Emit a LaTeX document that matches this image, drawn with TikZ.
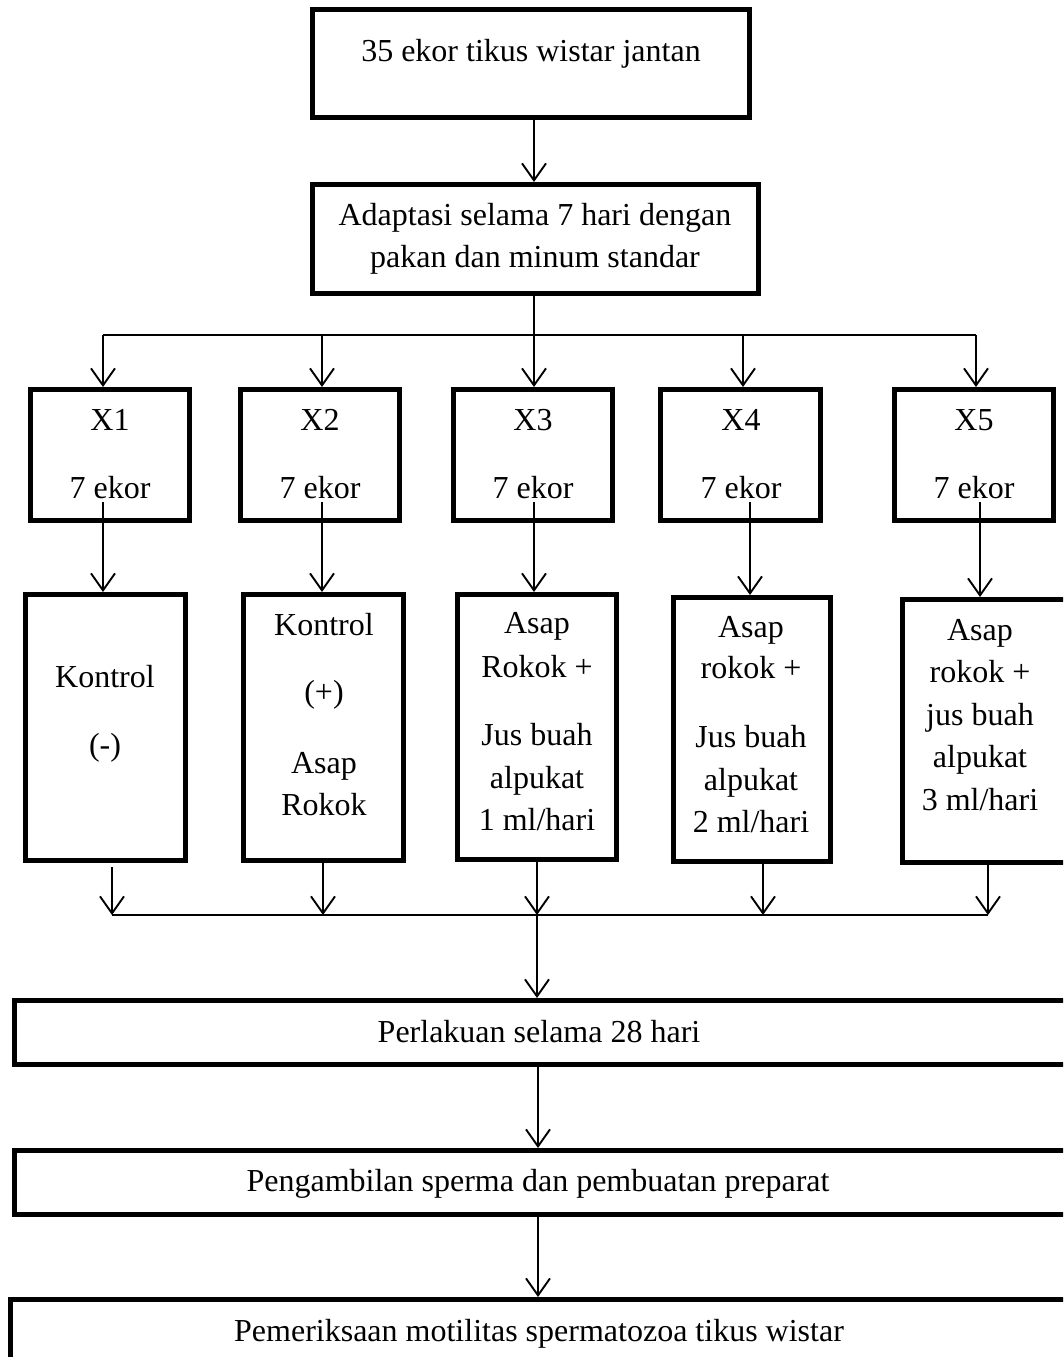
\documentclass[tikz,border=0pt]{standalone}
\usepackage{fontspec}
\setmainfont{Liberation Serif}
\usetikzlibrary{arrows.meta}
\begin{document}
\begin{tikzpicture}[x=1pt,y=-1pt,
  box/.style={draw, line width=5pt, inner sep=0pt, outer sep=2.5pt},
  txt/.style={anchor=base, inner sep=0pt, font=\fontsize{32}{38}\selectfont},
  link/.style={line width=1.9pt},
  arr/.style={line width=1.9pt, -{Straight Barb[length=17pt,width=24pt]}}]
\clip (0,0) rectangle (1063,1357);
\fill[white] (0,0) rectangle (1063,1357);
\newcommand\tline[4]{\node[txt] (#1) at (#2,#3) {#4};}
% boxes (center, size = outer size - line width)
\node[box, minimum width=437pt, minimum height=108pt] (A) at (531,63.5) {};
\node[box, minimum width=446pt, minimum height=109pt] (B) at (535.5,239) {};
\node[box, minimum width=159pt, minimum height=131pt] (X1) at (110,455) {};
\node[box, minimum width=159pt, minimum height=131pt] (X2) at (320,455) {};
\node[box, minimum width=159pt, minimum height=131pt] (X3) at (533,455) {};
\node[box, minimum width=160pt, minimum height=131pt] (X4) at (740.5,455) {};
\node[box, minimum width=159pt, minimum height=131pt] (X5) at (974,455) {};
\node[box, minimum width=160pt, minimum height=266pt] (R1) at (105.5,727.5) {};
\node[box, minimum width=160pt, minimum height=266pt] (R2) at (323.5,727.5) {};
\node[box, minimum width=159pt, minimum height=265pt] (R3) at (537,727) {};
\node[box, minimum width=157pt, minimum height=264pt] (R4) at (752,729.5) {};
\node[box, minimum width=170pt, minimum height=263pt] (R5) at (987.5,731) {};
\node[box, minimum width=1058pt, minimum height=64pt] (P1) at (543.5,1032.5) {};
\node[box, minimum width=1058pt, minimum height=64pt] (P2) at (543.5,1182.5) {};
\node[box, minimum width=1062pt, minimum height=78pt] (P3) at (541.5,1338.5) {};
% texts
\tline{tA}{531}{61}{35 ekor tikus wistar jantan}
\tline{tB1}{535}{225}{Adaptasi selama 7 hari dengan}
\tline{tB2}{535}{267}{pakan dan minum standar}
\tline{tX1a}{110}{430}{X1}\tline{tX1b}{110}{498}{7 ekor}
\tline{tX2a}{320}{430}{X2}\tline{tX2b}{320}{498}{7 ekor}
\tline{tX3a}{533}{430}{X3}\tline{tX3b}{533}{498}{7 ekor}
\tline{tX4a}{741}{430}{X4}\tline{tX4b}{741}{498}{7 ekor}
\tline{tX5a}{974}{430}{X5}\tline{tX5b}{974}{498}{7 ekor}
\tline{tR1a}{105}{687}{Kontrol}\tline{tR1b}{105}{755}{(-)}
\tline{tR2a}{324}{635}{Kontrol}\tline{tR2b}{324}{702}{(+)}
\tline{tR2c}{324}{773}{Asap}\tline{tR2d}{324}{815}{Rokok}
\tline{tR3a}{537}{633}{Asap}\tline{tR3b}{537}{677}{Rokok +}
\tline{tR3c}{537}{745}{Jus buah}\tline{tR3d}{537}{788}{alpukat}
\tline{tR3e}{537}{830}{1 ml/hari}
\tline{tR4a}{751}{637}{Asap}\tline{tR4b}{751}{678}{rokok +}
\tline{tR4c}{751}{747}{Jus buah}\tline{tR4d}{751}{790}{alpukat}
\tline{tR4e}{751}{832}{2 ml/hari}
\tline{tR5a}{980}{640}{Asap}\tline{tR5b}{980}{682}{rokok +}
\tline{tR5c}{980}{725}{jus buah}\tline{tR5d}{980}{767}{alpukat}
\tline{tR5e}{980}{810}{3 ml/hari}
\tline{tP1}{539}{1042}{Perlakuan selama 28 hari}
\tline{tP2}{538}{1191}{Pengambilan sperma dan pembuatan preparat}
\tline{tP3}{539}{1341}{Pemeriksaan motilitas spermatozoa tikus wistar}
% split and join points
\coordinate (hub) at (534,335);
\coordinate (s1) at (103,335);
\coordinate (s2) at (322,335);
\coordinate (s4) at (743,335);
\coordinate (s5) at (976,335);
\coordinate (j) at (537,915);
\coordinate (j1) at (112,915);
\coordinate (j2) at (323,915);
\coordinate (j4) at (763,915);
\coordinate (j5) at (988,915);
% connectors
\draw[arr] (A.south -| hub) -- (B.north -| hub);
\draw[link] (B.south -| hub) -- (hub);
\draw[link] (s1) -- (s5);
\draw[arr] (s1) -- (X1.north -| s1);
\draw[arr] (s2) -- (X2.north -| s2);
\draw[arr] (hub) -- (X3.north -| hub);
\draw[arr] (s4) -- (X4.north -| s4);
\draw[arr] (s5) -- (X5.north -| s5);
\draw[arr] ([yshift=21pt]X1.south -| s1) -- (R1.north -| s1);
\draw[arr] ([yshift=21pt]X2.south -| s2) -- (R2.north -| s2);
\draw[arr] ([yshift=21pt]X3.south -| hub) -- (R3.north -| hub);
\draw[arr] ([yshift=21pt]X4.south -| 750,0) -- (R4.north -| 750,0);
\draw[arr] ([yshift=21pt]X5.south -| 980,0) -- (R5.north -| 980,0);
\draw[link] (j1) -- (j5);
\draw[arr] ([yshift=-4pt]R1.south -| j1) -- (j1);
\draw[arr] (R2.south -| j2) -- (j2);
\draw[arr] (R3.south -| j) -- (j);
\draw[arr] (R4.south -| j4) -- (j4);
\draw[arr] (R5.south -| j5) -- (j5);
\draw[arr] (j) -- (P1.north -| j);
\draw[arr] (P1.south -| 538,0) -- (P2.north -| 538,0);
\draw[arr] (P2.south -| 538,0) -- (P3.north -| 538,0);
\end{tikzpicture}
\end{document}
